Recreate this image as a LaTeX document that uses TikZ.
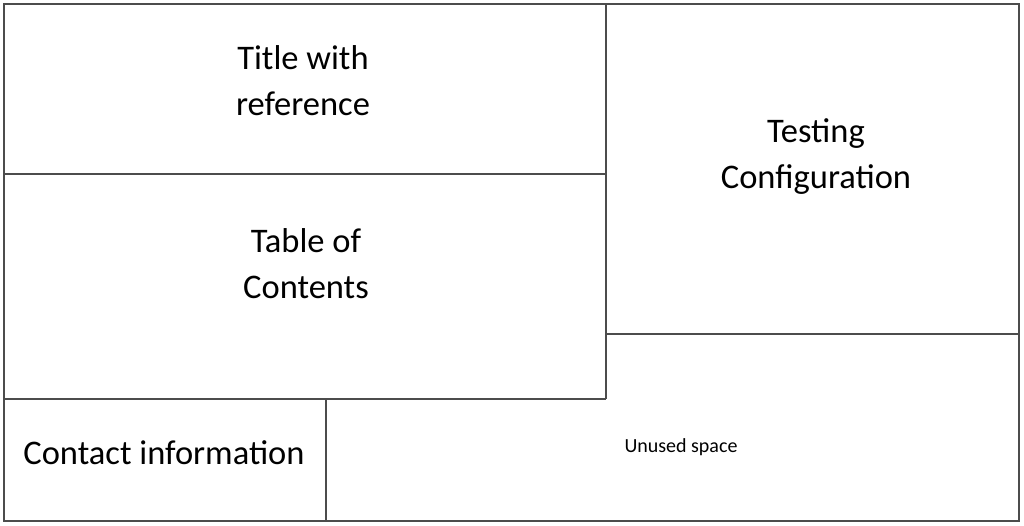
\documentclass[tikz,border=0pt]{standalone}
\usepackage{fontspec}
\setmainfont{Carlito}
\usetikzlibrary{positioning}

\begin{document}
\begin{tikzpicture}[x=1pt,y=-1pt,
    frame/.style={draw=black!70,line width=1.3pt},
    label/.style={align=center,font=\fontsize{34.5}{46}\selectfont,inner sep=0pt}]

        \useasboundingbox (0,0) rectangle (1024,526);

        % Rahmen und Felder
        \draw[frame] (4,4) rectangle (1019,521);
        \draw[frame] (606,4) -- (606,399); % Trennlinie rechts
        \draw[frame] (4,174) -- (606,174); % unter Titel
        \draw[frame] (4,399) -- (606,399); % unter Inhalt
        \draw[frame] (606,334) -- (1019,334); % unter Konfiguration
        \draw[frame] (326,399) -- (326,521); % neben Kontakt

        % Beschriftungen
        \node[label] (title) at (303,81) {Title with\\reference};
        \node[label] (toc) at (306,264) {Table of\\Contents};
        \node[label] (config) at (816,157) {Testing\\Configuration};
        \node[label] (contact) at (164,453) {Contact information};
        \node[font=\fontsize{20}{23}\selectfont,inner sep=0pt] (unused) at (681,447) {Unused space};

\end{tikzpicture}
\end{document}
